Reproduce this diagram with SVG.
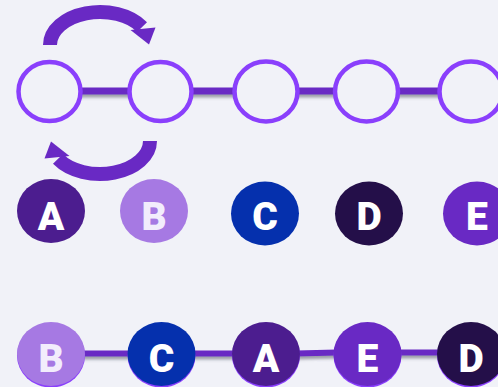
<svg xmlns="http://www.w3.org/2000/svg" width="498" height="387" viewBox="0 0 498 387">
  <defs>
    <filter id="sh" filterUnits="userSpaceOnUse" x="0" y="0" width="498" height="387">
      <feDropShadow dx="0" dy="3" stdDeviation="1.6" flood-color="#555a66" flood-opacity="0.55"/>
    </filter>
    <g id="swap">
      <path d="M50,45 A50,33 0 0 1 142,27.1" fill="none" stroke="#6929c4" stroke-width="14"/>
      <polygon points="130.5,30 155.5,27.5 149,44.5" fill="#6929c4"/>
    </g>
    <style>
      .ring { fill: #f1f2f8; stroke: #8a3ffc; stroke-width: 4.5; }
      .link { stroke: #6929c4; fill: none; }
      .lbl { font-family: Roboto, "Liberation Sans", sans-serif; font-weight: 900; font-size: 39px; fill: #ffffff; text-anchor: middle; }
      .lt { fill: #f2edfc; }
      .rim { fill: #8a3ffc; }
    </style>
  </defs>
  <rect width="498" height="387" fill="#f1f2f8"/>

  <g id="connectors">
    <g filter="url(#sh)">
      <line class="link" x1="75" y1="91" x2="135" y2="91" stroke-width="7"/>
      <line class="link" x1="185" y1="91" x2="240" y2="91" stroke-width="7"/>
      <line class="link" x1="292" y1="91" x2="340" y2="91" stroke-width="7"/>
      <line class="link" x1="392" y1="91" x2="445" y2="91" stroke-width="7"/>
    </g>
    <g filter="url(#sh)">
      <line class="link" x1="80" y1="353.5" x2="130" y2="353.5" stroke-width="6"/>
      <line class="link" x1="190" y1="353.5" x2="236" y2="353.5" stroke-width="6"/>
      <line class="link" x1="296" y1="353.5" x2="337" y2="352.5" stroke-width="6"/>
      <line class="link" x1="396" y1="352.5" x2="441" y2="352.5" stroke-width="6"/>
    </g>
    <use href="#swap"/>
    <use href="#swap" transform="rotate(180 100 93)"/>
  </g>

  <g id="ring1"><ellipse class="ring" cx="49.5" cy="91.5" rx="31" ry="29.5"/></g>
  <g id="ring2"><ellipse class="ring" cx="160.5" cy="91.5" rx="31" ry="29.5"/></g>
  <g id="ring3"><ellipse class="ring" cx="266" cy="91.5" rx="31.5" ry="30"/></g>
  <g id="ring4"><ellipse class="ring" cx="366.5" cy="91.5" rx="31.5" ry="30"/></g>
  <g id="ring5"><ellipse class="ring" cx="471" cy="91.5" rx="31.5" ry="30"/></g>

  <g id="nodeA1"><ellipse cx="51" cy="211" rx="34" ry="32" fill="#4c1d8f"/><text class="lbl" x="51" y="229.5">A</text></g>
  <g id="nodeB1"><ellipse cx="154" cy="211" rx="34" ry="32" fill="#a679e3"/><text class="lbl lt" x="154" y="229.5">B</text></g>
  <g id="nodeC1"><ellipse cx="265" cy="213.5" rx="34" ry="32" fill="#0530ad"/><text class="lbl" x="265" y="230">C</text></g>
  <g id="nodeD1"><ellipse cx="369" cy="213.5" rx="34" ry="32" fill="#240f49"/><text class="lbl" x="369" y="230">D</text></g>
  <g id="nodeE1"><ellipse cx="477" cy="213.5" rx="34" ry="32" fill="#6929c4"/><text class="lbl" x="477" y="230">E</text></g>

  <g id="nodeB2"><ellipse class="rim" cx="51" cy="355.5" rx="34" ry="32"/><ellipse cx="51" cy="354" rx="34" ry="32" fill="#a679e3"/><text class="lbl lt" x="51" y="372">B</text></g>
  <g id="nodeC2"><ellipse class="rim" cx="161.5" cy="355.5" rx="34" ry="32"/><ellipse cx="161.5" cy="354" rx="34" ry="32" fill="#0530ad"/><text class="lbl" x="161.5" y="372">C</text></g>
  <g id="nodeA2"><ellipse class="rim" cx="266" cy="355.5" rx="34" ry="32"/><ellipse cx="266" cy="354" rx="34" ry="32" fill="#4c1d8f"/><text class="lbl" x="266" y="372">A</text></g>
  <g id="nodeE2"><ellipse class="rim" cx="367.5" cy="355.5" rx="34" ry="32"/><ellipse cx="367.5" cy="354" rx="34" ry="32" fill="#6929c4"/><text class="lbl" x="367.5" y="372">E</text></g>
  <g id="nodeD2"><ellipse class="rim" cx="471" cy="355.5" rx="34" ry="32"/><ellipse cx="471" cy="354" rx="34" ry="32" fill="#240f49"/><text class="lbl" x="471" y="372">D</text></g>
</svg>
